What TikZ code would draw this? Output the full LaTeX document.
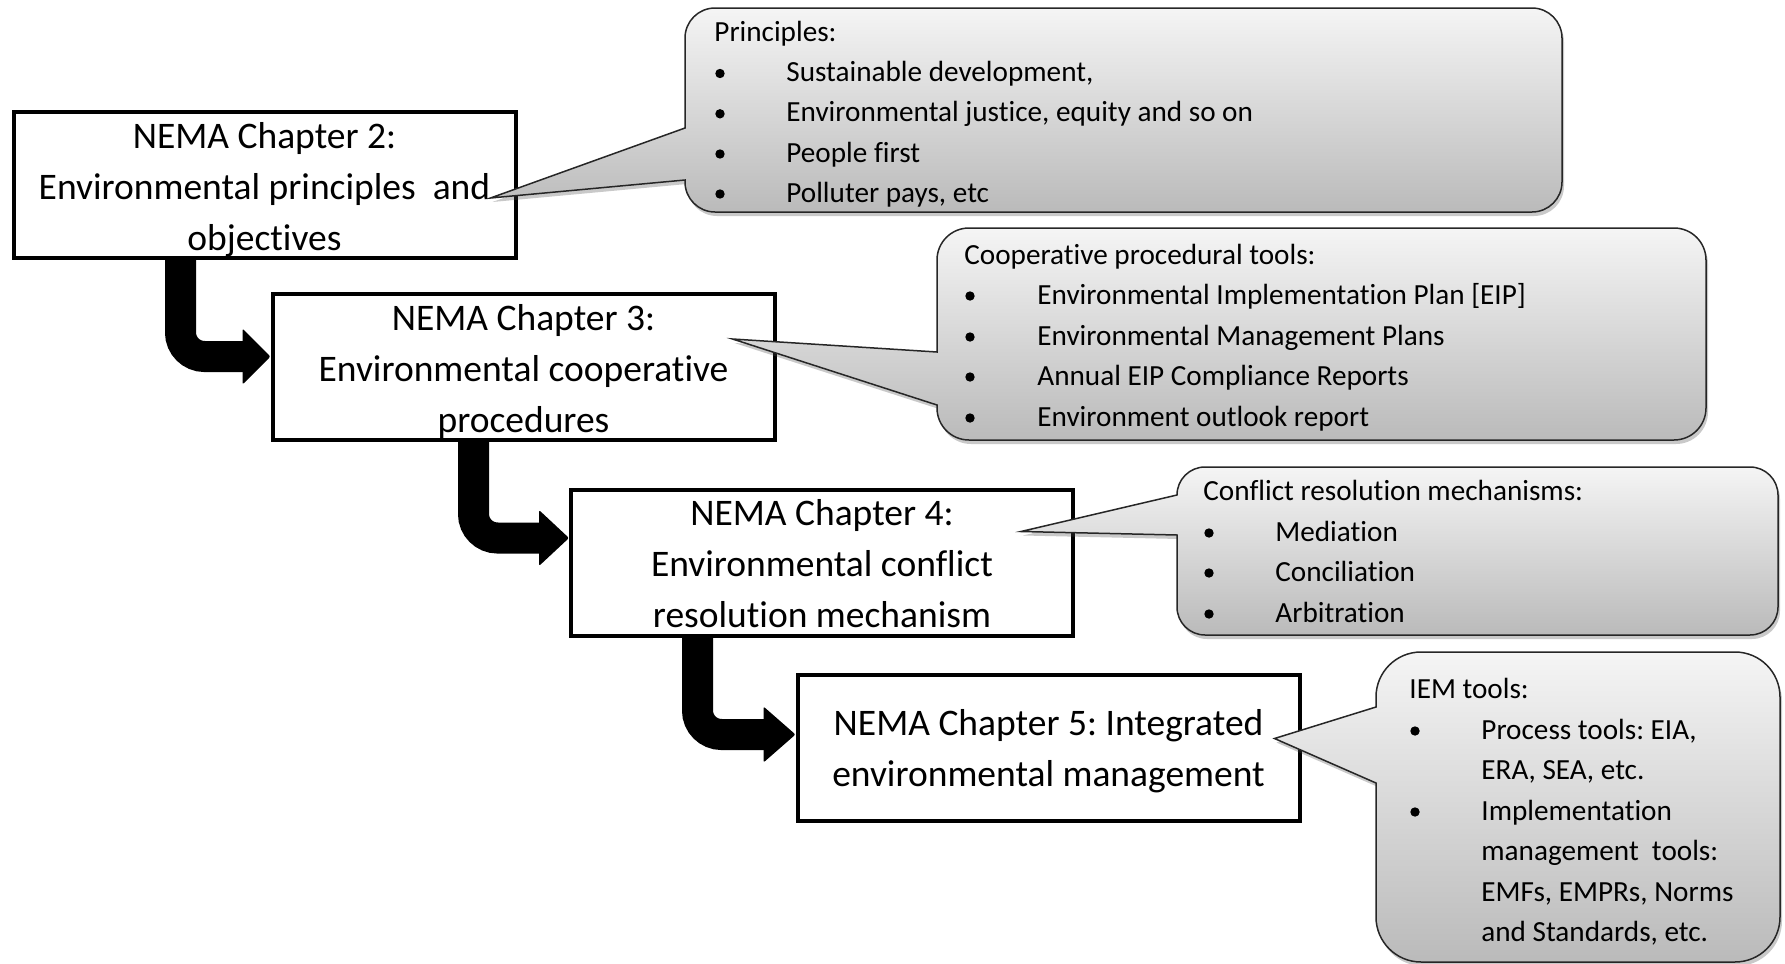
\documentclass[tikz,border=0pt]{standalone}
\usepackage{fontspec}
\setmainfont[Ligatures=NoCommon]{Carlito}
\usetikzlibrary{calc,shadows}
\frenchspacing

\tikzset{
  chbox/.style={draw=black, line width=2pt, fill=white,
    minimum width=251pt, minimum height=73pt, inner sep=0pt},
  chtext/.style={anchor=base, inner sep=0pt,
    font=\fontsize{18.75}{25.5}\selectfont},
  callout/.style={top color=black!4, bottom color=black!27,
    draw=black!85, line width=0.75pt,
    drop shadow={shadow xshift=1pt, shadow yshift=-2pt, opacity=0.3, fill=black!70}},
  ctext/.style={anchor=base west, inner sep=0pt,
    font=\fontsize{14.6}{20}\selectfont},
  flowshaft/.style={draw=black, line width=15.5pt, rounded corners=12pt},
  flowhead/.style={fill=black, rounded corners=1pt}
}

% rounded callout: left, top, right, bottom, radius, tail top, tail bottom, tip
\newcommand\calloutshape[8]{%
  \shadedraw[callout] (#1,#6) -- (#1,#2+#5)
    arc[start angle=180,end angle=270,radius=#5] -- (#3-#5,#2)
    arc[start angle=270,end angle=360,radius=#5] -- (#3,#4-#5)
    arc[start angle=0,end angle=90,radius=#5] -- (#1+#5,#4)
    arc[start angle=90,end angle=180,radius=#5] -- (#1,#7) -- (#8) -- cycle;}

% bullet dot placed on a text baseline
\newcommand\bulletdot[2]{\fill (#1,#2-8) circle[radius=4.7];}

\begin{document}
\begin{tikzpicture}[x=0.5pt,y=-0.5pt]
\useasboundingbox (0,0) rectangle (1785,964);

% chapter boxes
\node[chbox] (b1) at (264.5,185) {};
\node[chbox] (b2) at (523.5,367) {};
\node[chbox] (b3) at (822,562.5) {};
\node[chbox] (b4) at (1048.5,747.5) {};

% bent flow arrows between chapters
\coordinate (t1) at ($(b2.west)+(0,-10.5)$);
\coordinate (t2) at ($(b3.west)+(0,-24.5)$);
\coordinate (t3) at ($(b4.west)+(0,-13)$);
\draw[flowshaft] ($(b1.south west)+(169,-3)$) |- ($(t1)+(-26,0)$);
\fill[flowhead] ($(t1)+(-28,-28)$) -- (t1) -- ($(t1)+(-28,28)$) -- cycle;
\draw[flowshaft] ($(b2.south west)+(203,-3)$) |- ($(t2)+(-28,0)$);
\fill[flowhead] ($(t2)+(-30,-28)$) -- (t2) -- ($(t2)+(-30,28)$) -- cycle;
\draw[flowshaft] ($(b3.south west)+(128.5,-3)$) |- ($(t3)+(-30,0)$);
\fill[flowhead] ($(t3)+(-32,-28)$) -- (t3) -- ($(t3)+(-32,28)$) -- cycle;

% callout pointers end inside the boxes
\coordinate (p1) at ($(b1.east)+(-27,13)$);
\coordinate (p2) at ($(b2.east)+(-44,-28)$);
\coordinate (p3) at ($(b3.east)+(-54,-31)$);
\coordinate (p4) at ($(b4.east)+(-27,-9)$);

% callouts
\calloutshape{685}{8}{1562}{212}{30}{128}{180}{p1}
\calloutshape{937}{228}{1706}{440}{32}{352}{405}{p2}
\calloutshape{1177}{467}{1778}{635}{28}{495}{535}{p3}
\calloutshape{1376}{652}{1780}{962}{45}{707}{783}{p4}

% chapter titles
\node[chtext] (b1t) at ($(b1.north)+(0,38)$)
  {\begin{tabular}[t]{@{}c@{}}NEMA Chapter 2:\\Environmental principles~ and\\objectives\end{tabular}};
\node[chtext] (b2t) at ($(b2.north)+(0,38)$)
  {\begin{tabular}[t]{@{}c@{}}NEMA Chapter 3:\\Environmental cooperative\\procedures\end{tabular}};
\node[chtext] (b3t) at ($(b3.north)+(0,38)$)
  {\begin{tabular}[t]{@{}c@{}}NEMA Chapter 4:\\Environmental conflict\\resolution mechanism\end{tabular}};
\node[chtext] (b4t) at ($(b4.north)+(0,63)$)
  {\begin{tabular}[t]{@{}c@{}}NEMA Chapter 5: Integrated\\environmental management\end{tabular}};

% principles
\node[ctext] (c1h) at (714,41) {Principles:};
\bulletdot{720}{81.5}\node[ctext] (c1a) at (786,81.5) {Sustainable development,};
\bulletdot{720}{121.8}\node[ctext] (c1b) at (786,121.8) {Environmental justice, equity and so on};
\bulletdot{720}{162}\node[ctext] (c1c) at (786,162) {People first};
\bulletdot{720}{202}\node[ctext] (c1d) at (786,202) {Polluter pays, etc};

% cooperative procedural tools
\node[ctext] (c2h) at (964,264) {Cooperative procedural tools:};
\bulletdot{970}{304}\node[ctext] (c2a) at (1037,304) {Environmental Implementation Plan [EIP]};
\bulletdot{970}{345}\node[ctext] (c2b) at (1037,345) {Environmental Management Plans};
\bulletdot{970}{385}\node[ctext] (c2c) at (1037,385) {Annual EIP Compliance Reports};
\bulletdot{970}{426}\node[ctext] (c2d) at (1037,426) {Environment outlook report};

% conflict resolution mechanisms
\node[ctext] (c3h) at (1203,500) {Conflict resolution mechanisms:};
\bulletdot{1209}{541}\node[ctext] (c3a) at (1275,541) {Mediation};
\bulletdot{1209}{581}\node[ctext] (c3b) at (1275,581) {Conciliation};
\bulletdot{1209}{622}\node[ctext] (c3c) at (1275,622) {Arbitration};

% IEM tools
\node[ctext] (c4h) at (1409,698) {IEM tools:};
\bulletdot{1415}{739}\node[ctext] (c4a) at (1481,739) {Process tools: EIA,};
\node[ctext] (c4b) at (1481,779) {ERA, SEA, etc.};
\bulletdot{1415}{820}\node[ctext] (c4c) at (1481,820) {Implementation};
\node[ctext] (c4d) at (1481,860) {management~ tools:};
\node[ctext] (c4e) at (1481,901) {EMFs, EMPRs, Norms};
\node[ctext] (c4f) at (1481,941) {and Standards, etc.};
\end{tikzpicture}
\end{document}
